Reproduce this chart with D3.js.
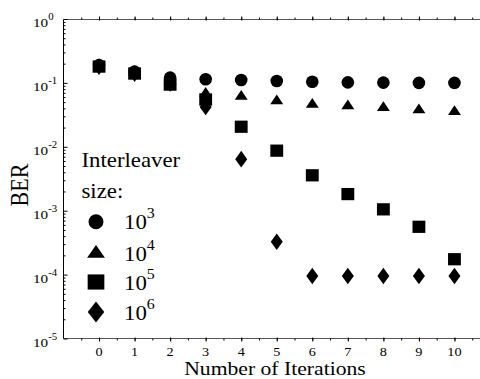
<!DOCTYPE html>
<html><head><meta charset="utf-8">
<script src="https://cdn.jsdelivr.net/npm/d3@7"></script>
<style>body{margin:0;background:#fff}svg{display:block}text{font-family:"Liberation Serif","DejaVu Serif","Times New Roman",serif;fill:#000}</style>
</head><body><svg id="c" width="480" height="379"></svg>
<script>
const iterations = [0,1,2,3,4,5,6,7,8,9,10];
const ber1e3 = [0.19,0.15,0.121,0.114,0.111,0.107,0.104,0.102,0.101,0.100,0.100];
const ber1e4 = [0.185,0.145,0.105,0.068,0.061,0.052,0.046,0.0435,0.041,0.0376,0.0354];
const ber1e5 = [0.18,0.14,0.094,0.055,0.0206,0.0087,0.00358,0.00182,0.00105,0.00056,0.000174];
const ber1e6 = [0.18,0.14,0.098,0.042,0.0064,0.000327,0.000095,0.000095,0.000095,0.000095,0.000095];
const seriesNames = ["3","4","5","6"];
const yTickExp = [0,-1,-2,-3,-4,-5];
const xLabel = "Number of Iterations", yLabel = "BER";
const legendTitle = ["Interleaver","size:"];

const SX = 1.14;
const svg = d3.select("#c");
const x = d3.scaleLinear().domain([-1, 11]).range([63.5, 490]);
const y = d3.scaleLog().domain([1, 1e-5]).range([19, 338.5]);
const frame = "#555";

// frame lines
svg.append("line").attr("x1",63.5).attr("x2",480).attr("y1",19.5).attr("y2",19.5).attr("stroke",frame);
svg.append("line").attr("x1",63.5).attr("x2",480).attr("y1",338.5).attr("y2",338.5).attr("stroke",frame);
svg.append("line").attr("x1",63.5).attr("x2",63.5).attr("y1",19.5).attr("y2",338.5).attr("stroke","#000");

const xMinor = d3.range(-0.5, 11, 0.5);
function ticksX(yy, dir){
  const g = svg.append("g").attr("transform",`translate(0,${yy})`);
  g.call((dir>0?d3.axisTop(x):d3.axisBottom(x)).tickValues(xMinor).tickSize(-2).tickFormat(""));
  g.select(".domain").remove();
  g.selectAll("line").attr("stroke","#000");
  const g2 = svg.append("g").attr("transform",`translate(0,${yy})`);
  g2.call((dir>0?d3.axisTop(x):d3.axisBottom(x)).tickValues(iterations).tickSize(-3).tickFormat(""));
  g2.select(".domain").remove();
  g2.selectAll("line").attr("stroke","#000").attr("y1", dir>0?-1:1);
}
ticksX(338.5, 1);
ticksX(19.5, -1);

// x tick labels
svg.append("g").selectAll("text").data(iterations).join("text")
  .attr("transform", d=>`translate(${x(d)},356) scale(${SX},1)`)
  .attr("text-anchor","middle").style("font-size","12.5px").text(d=>d);

// y axis ticks
const yMajor = yTickExp.map(e=>Math.pow(10,e));
const yMinor = [];
for (let e=-5;e<0;e++) for (let m=2;m<=9;m++) yMinor.push(m*Math.pow(10,e));
const gy = svg.append("g").attr("transform","translate(63.5,0)");
gy.call(d3.axisLeft(y).tickValues(yMajor).tickSize(-4).tickFormat(""));
gy.select(".domain").remove();
gy.selectAll("line").attr("stroke","#000");
const gy2 = svg.append("g").attr("transform","translate(63.5,0)");
gy2.call(d3.axisLeft(y).tickValues(yMinor).tickSize(-2).tickFormat(""));
gy2.select(".domain").remove();
gy2.selectAll("line").attr("stroke","#000");

// y tick labels with superscript
const yl = svg.append("g").selectAll("g").data(yTickExp).join("g")
  .attr("transform", e=>`translate(33,${y(Math.pow(10,e))+8}) scale(${SX},1)`);
yl.append("text").style("font-size","13.3px").text("10")
  .append("tspan").attr("dy",-7).style("font-size","9.5px").text(e=>e);

// axis titles
svg.append("text").attr("transform",`translate(${x(4.95)},375) scale(${SX},1)`)
  .attr("text-anchor","middle").style("font-size","19px").text(xLabel);
svg.append("text").attr("transform",`translate(28,185) rotate(-90) scale(1,${SX})`)
  .attr("text-anchor","middle").style("font-size","22px").text(yLabel);

// symbols
const symbols = [
  {type:d3.symbolCircle, size:125, data:ber1e3, sx:1, sy:1},
  {type:d3.symbolTriangle, size:55, data:ber1e4, sx:1.15, sy:1},
  {type:d3.symbolSquare, size:150, data:ber1e5, sx:1.05, sy:1},
  {type:d3.symbolDiamond, size:80, data:ber1e6, sx:1.25, sy:1},
];
symbols.forEach(s=>{
  const path = d3.symbol().type(s.type).size(s.size)();
  svg.append("g").selectAll("path").data(s.data).join("path")
    .attr("d", path).attr("fill","#000")
    .attr("transform",(d,i)=>`translate(${x(iterations[i])},${y(d)}) scale(${s.sx},${s.sy})`);
});

// legend
legendTitle.forEach((t,i)=>{
  svg.append("text").attr("transform",`translate(81.5,${167+31*i}) scale(${SX},1)`)
    .style("font-size","20px").text(t);
});
const legY = [221.7, 253.5, 282, 312];
const legSym = [
  {type:d3.symbolCircle, size:175, sx:1, sy:1},
  {type:d3.symbolTriangle, size:95, sx:1.2, sy:1},
  {type:d3.symbolSquare, size:230, sx:1.1, sy:1},
  {type:d3.symbolDiamond, size:130, sx:1.35, sy:1},
];
legSym.forEach((s,i)=>{
  svg.append("path").attr("d", d3.symbol().type(s.type).size(s.size)()).attr("fill","#000")
    .attr("transform",`translate(96,${legY[i]}) scale(${s.sx},${s.sy})`);
  const t = svg.append("text").attr("transform",`translate(124,${legY[i]+7.5}) scale(${SX},1)`)
    .style("font-size","20px").text("10");
  t.append("tspan").attr("dy",-11).style("font-size","14px").text(seriesNames[i]);
});
</script></body></html>
